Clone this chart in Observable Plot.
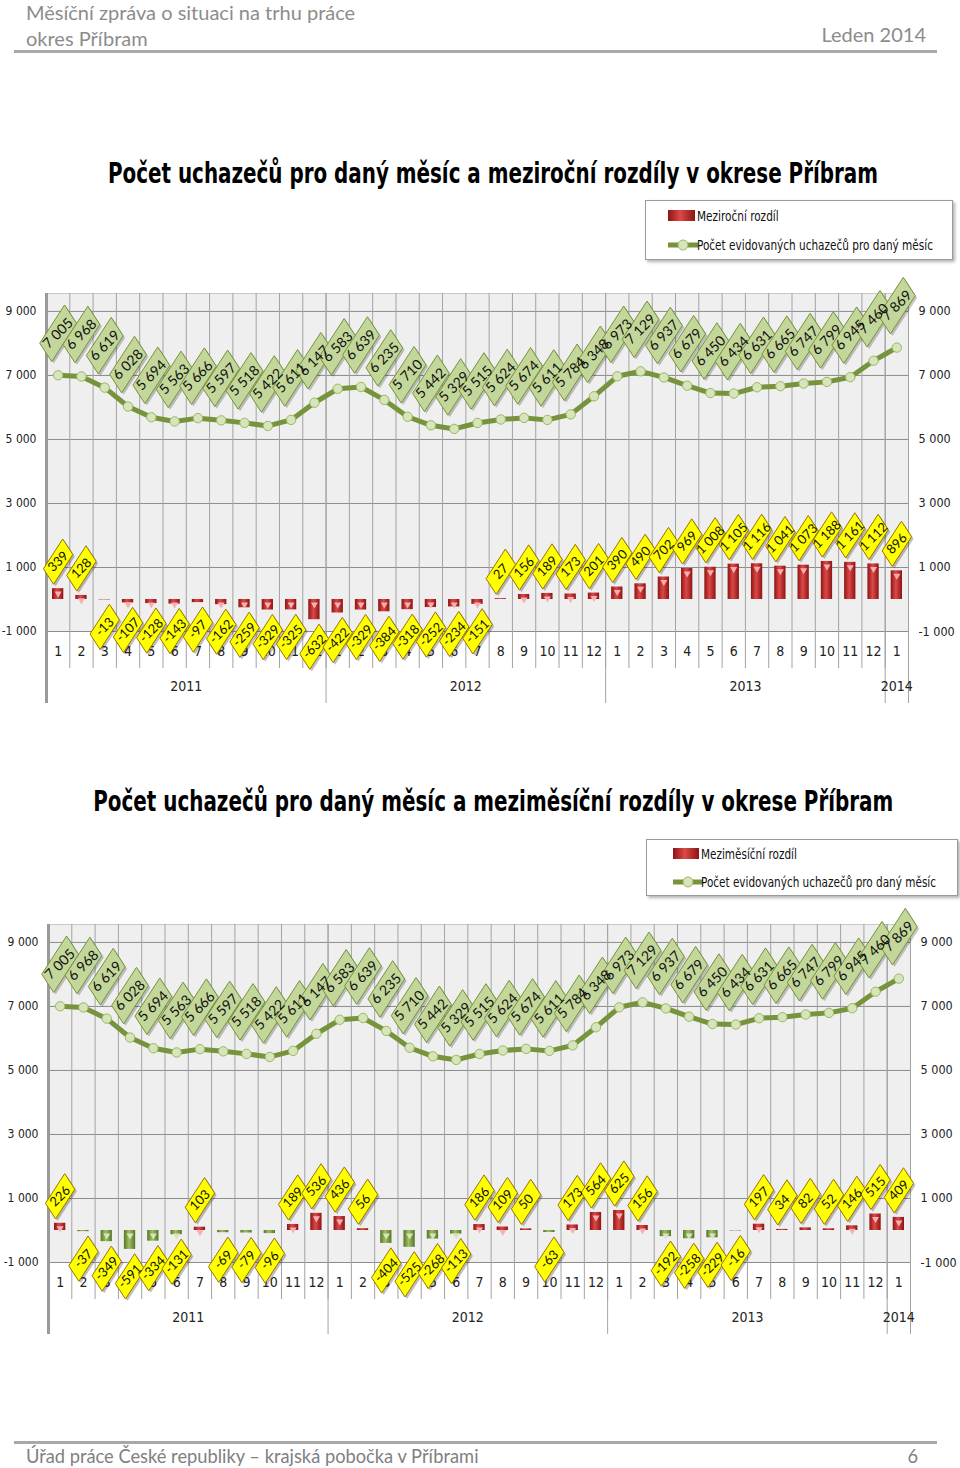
<!DOCTYPE html>
<html><head><meta charset="utf-8">
<script src="https://cdn.jsdelivr.net/npm/d3@7"></script>
<script src="https://cdn.jsdelivr.net/npm/@observablehq/plot@0.6"></script>
<style>
body{margin:0;background:#fff;}
#page{position:relative;width:960px;height:1468px;overflow:hidden;font-family:Lato,"Open Sans",sans-serif;}
.hdr{position:absolute;color:#8c8c8c;font-size:20px;line-height:24px;white-space:nowrap;}
.rule{position:absolute;left:14px;width:923px;height:3px;background:#a8a8a8;}
.title{position:absolute;left:-507px;width:2000px;text-align:center;white-space:nowrap;}
.title span{display:inline-block;font-family:"Liberation Sans Narrow","Arial Narrow","DejaVu Sans Condensed",sans-serif;font-stretch:condensed;font-weight:bold;font-size:29px;line-height:32px;color:#000;transform-origin:center;}
.legend{position:absolute;border:1px solid #9a9a9a;background:#fff;box-shadow:2px 2px 3px rgba(0,0,0,.3);font-family:"Liberation Sans Narrow","Arial Narrow","DejaVu Sans Condensed",sans-serif;font-stretch:condensed;font-size:14px;color:#111;}
.legend .it{position:absolute;white-space:nowrap;line-height:18px;transform-origin:left center;}
.legend svg{position:absolute;}
.chart{position:absolute;left:0;}
.chart svg{overflow:visible;}
</style></head>
<body>
<svg width="0" height="0" style="position:absolute">
<defs>
<linearGradient id="redG" x1="0" x2="1" y1="0" y2="0">
<stop offset="0" stop-color="#8c1414"/><stop offset="0.45" stop-color="#dd4848"/><stop offset="1" stop-color="#8c1414"/>
</linearGradient>
<linearGradient id="greenG" x1="0" x2="1" y1="0" y2="0">
<stop offset="0" stop-color="#55752a"/><stop offset="0.45" stop-color="#9fc05e"/><stop offset="1" stop-color="#55752a"/>
</linearGradient>
</defs></svg>
<div id="page">
  <div class="hdr" style="left:26px;top:0px;">Měsíční zpráva o situaci na trhu práce</div>
  <div class="hdr" style="left:26px;top:26px;">okres Příbram</div>
  <div class="hdr" style="right:34px;top:22px;">Leden 2014</div>
  <div class="rule" style="top:50px;"></div>

  <div class="title" style="top:157px;"><span id="t1">Počet uchazečů pro daný měsíc a meziroční rozdíly v okrese Příbram</span></div>
  <div class="legend" style="left:645px;top:200px;width:306px;height:58px;">
    <svg style="left:22px;top:9px" width="28" height="12"><rect x="0" y="0" width="27" height="11" fill="url(#redG)"/></svg>
    <div class="it" id="l1a" style="left:51px;top:6px;">Meziroční rozdíl</div>
    <svg style="left:22px;top:37px" width="32" height="14"><line x1="0" x2="30" y1="7" y2="7" stroke="#77933c" stroke-width="5"/><circle cx="15" cy="7" r="5" fill="#d7e4bd" stroke="#9bbb59"/></svg>
    <div class="it" id="l1b" style="left:51px;top:35px;">Počet evidovaných uchazečů pro daný měsíc</div>
  </div>
  <div class="chart" id="c1" style="top:265px;"></div>

  <div class="title" style="top:785px;"><span id="t2">Počet uchazečů pro daný měsíc a meziměsíční rozdíly v okrese Příbram</span></div>
  <div class="legend" style="left:646px;top:839px;width:310px;height:55px;">
    <svg style="left:26px;top:8px" width="28" height="12"><rect x="0" y="0" width="26" height="11" fill="url(#redG)"/></svg>
    <div class="it" id="l2a" style="left:54px;top:5px;">Meziměsíční rozdíl</div>
    <svg style="left:26px;top:35px" width="32" height="14"><line x1="0" x2="30" y1="7" y2="7" stroke="#77933c" stroke-width="5"/><circle cx="15" cy="7" r="5" fill="#d7e4bd" stroke="#9bbb59"/></svg>
    <div class="it" id="l2b" style="left:54px;top:33px;">Počet evidovaných uchazečů pro daný měsíc</div>
  </div>
  <div class="chart" id="c2" style="top:896px;"></div>

  <div class="rule" style="top:1441px;"></div>
  <div class="hdr" style="left:26px;top:1444px;font-size:18.3px;color:#7f7f7f;">Úřad práce České republiky – krajská pobočka v Příbrami</div>
  <div class="hdr" style="right:42px;top:1444px;font-size:18.3px;color:#7f7f7f;">6</div>
</div>
<script>
// ---- data ----
const monthNums = [1,2,3,4,5,6,7,8,9,10,11,12, 1,2,3,4,5,6,7,8,9,10,11,12, 1,2,3,4,5,6,7,8,9,10,11,12, 1];
const yearLabels = ["2011", "2012", "2013", "2014"];
const yearStarts = [0, 12, 24, 36];
const yearEnds = [12, 24, 36, 37];
const counts = [7005, 6968, 6619, 6028, 5694, 5563, 5666, 5597, 5518, 5422, 5611, 6147,
                6583, 6639, 6235, 5710, 5442, 5329, 5515, 5624, 5674, 5611, 5784, 6348,
                6973, 7129, 6937, 6679, 6450, 6434, 6631, 6665, 6747, 6799, 6945, 7460,
                7869];
const yearDiffs = [339, 128, -13, -107, -128, -143, -97, -162, -259, -329, -325, -632,
                   -422, -329, -384, -318, -252, -234, -151, 27, 156, 189, 173, 201,
                   390, 490, 702, 969, 1008, 1105, 1116, 1041, 1073, 1188, 1161, 1112,
                   896];
const monthDiffs = [226, -37, -349, -591, -334, -131, 103, -69, -79, -96, 189, 536,
                    436, 56, -404, -525, -268, -113, 186, 109, 50, -63, 173, 564,
                    625, 156, -192, -258, -229, -16, 197, 34, 82, 52, 146, 515,
                    409];
const yTicks = [-1000, 1000, 3000, 5000, 7000, 9000];

const fmt = d3.formatLocale({decimal: ",", thousands: " ", grouping: [3], currency: ["", ""], minus: "-"}).format(",d");
const NARROW = '"Liberation Sans Narrow","Arial Narrow","DejaVu Sans Condensed",sans-serif';
const SQ = 0.65; // horizontal squash of the rotated labels

function boxSymbol(a, b) {
  const c = Math.SQRT1_2;
  const pts = [[a/2, b/2], [a/2, -b/2], [-a/2, -b/2], [-a/2, b/2]]
    .map(([x, y]) => [SQ * (c * x + c * y), -c * x + c * y]);
  return {draw(ctx) {
    ctx.moveTo(pts[0][0], pts[0][1]);
    for (let k = 1; k < pts.length; k++) ctx.lineTo(pts[k][0], pts[k][1]);
    ctx.closePath();
  }};
}
const greenBox = boxSymbol(54, 26);
const yellowBox = boxSymbol(42, 22);

function squash(svg, label) {
  svg.querySelectorAll(`g[aria-label="${label}"] text`).forEach(t => {
    const tr = t.getAttribute("transform") || "";
    t.setAttribute("transform", tr.replace(/rotate\(([^)]*)\)/, `scale(${SQ},1) rotate($1)`));
  });
}

function makeChart(diffs, negFill, negCap, marginLeft, marginRight) {
  const data = counts.map((c, i) => ({i0: i, i1: i + 1, mi: i + 0.5, count: c, diff: diffs[i]}));
  const pos = data.filter(d => d.diff >= 0);
  const neg = data.filter(d => d.diff < 0);
  const years = yearLabels.map((y, k) => ({label: y, mid: (yearStarts[k] + yearEnds[k]) / 2}));
  const edges = [...yearStarts, 37];
  const yOff = 42, dOff = 27;
  const svg = Plot.plot({
    width: 960, height: 450,
    marginTop: 28, marginBottom: 84, marginLeft, marginRight,
    style: {fontFamily: NARROW, fontSize: "14px", color: "#222", background: "transparent", overflow: "visible"},
    x: {type: "linear", domain: [0, 37]},
    y: {domain: [-1000, 9560]},
    marks: [
      Plot.frame({fill: "#efefef", stroke: "#c8c8c8"}),
      Plot.ruleY(yTicks, {stroke: "#8c8c8c", strokeWidth: 1}),
      Plot.ruleX(d3.range(1, 37), {stroke: "#a3a3a3", insetBottom: -37}),
      Plot.ruleX(edges, {stroke: "#a3a3a3", insetBottom: -72}),
      Plot.ruleX([0], {stroke: "#9a9a9a", strokeWidth: 3, insetBottom: -72}),
      Plot.axisY({anchor: "left", ticks: yTicks, tickFormat: fmt, tickSize: 0, tickPadding: 10, label: null, fontSize: 12}),
      Plot.axisY({anchor: "right", ticks: yTicks, tickFormat: fmt, tickSize: 0, tickPadding: 10, label: null, fontSize: 12.5}),
      Plot.axisX({ticks: data.map(d => d.mi), tickFormat: d => monthNums[Math.floor(d)], tickSize: 0, tickPadding: 15, label: null, fontSize: 14}),
      Plot.text(years, {x: "mid", frameAnchor: "bottom", dy: 59, text: "label", fontSize: 14}),
      // bars
      Plot.rectY(pos, {x1: "i0", x2: "i1", y: "diff", insetLeft: 6, insetRight: 6, fill: "url(#redG)"}),
      Plot.rectY(neg, {x1: "i0", x2: "i1", y: "diff", insetLeft: 6, insetRight: 6, fill: negFill}),
      Plot.dot(pos.filter(d => d.diff >= 100), {x: "mi", y: "diff", symbol: "triangle", rotate: 180, r: 2.6, fill: "#f6b0b0", dy: 5}),
      Plot.dot(neg.filter(d => d.diff <= -100), {x: "mi", y: 0, symbol: "triangle", rotate: 180, r: 2.6, fill: negCap, dy: 5}),
      // count line
      Plot.line(data, {x: "mi", y: "count", stroke: "#77933c", strokeWidth: 5}),
      Plot.dot(data, {x: "mi", y: "count", r: 4.7, fill: "#d7e4bd", stroke: "#9bbb59", strokeWidth: 1}),
      // count labels
      Plot.dot(data, {x: "mi", y: "count", dx: 2, dy: -yOff + 2, symbol: greenBox, fill: "#000", fillOpacity: 0.22, stroke: null}),
      Plot.dot(data, {x: "mi", y: "count", dy: -yOff, symbol: greenBox, fill: "#c4d79b", stroke: "#76923c", strokeWidth: 1}),
      Plot.text(data, {x: "mi", y: "count", dy: -yOff, text: d => fmt(d.count), rotate: -45, fontSize: 14, fontFamily: "Lato, sans-serif", fill: "#111", ariaLabel: "count-label"}),
      // difference labels
      Plot.dot(pos, {x: "mi", y: "diff", dx: 2, dy: -dOff + 2, symbol: yellowBox, fill: "#000", fillOpacity: 0.25, stroke: null}),
      Plot.dot(neg, {x: "mi", y: "diff", dx: 2, dy: dOff + 2, symbol: yellowBox, fill: "#000", fillOpacity: 0.25, stroke: null}),
      Plot.dot(pos, {x: "mi", y: "diff", dy: -dOff, symbol: yellowBox, fill: "#ffff00", stroke: "#9a7400", strokeWidth: 1}),
      Plot.dot(neg, {x: "mi", y: "diff", dy: dOff, symbol: yellowBox, fill: "#ffff00", stroke: "#9a7400", strokeWidth: 1}),
      Plot.text(pos, {x: "mi", y: "diff", dy: -dOff, text: d => fmt(d.diff), rotate: -45, fontSize: 13, fontFamily: "Lato, sans-serif", fill: "#111", ariaLabel: "diff-label"}),
      Plot.text(neg, {x: "mi", y: "diff", dy: dOff, text: d => fmt(d.diff), rotate: -45, fontSize: 13, fontFamily: "Lato, sans-serif", fill: "#111", ariaLabel: "diff-label"})
    ]
  });
  squash(svg, "count-label");
  squash(svg, "diff-label");
  return svg;
}

document.getElementById("c1").appendChild(makeChart(yearDiffs, "url(#redG)", "#f6b0b0", 46, 52));
document.getElementById("c2").appendChild(makeChart(monthDiffs, "url(#greenG)", "#d7e4bd", 48, 50));

function fitWidth(id, target) {
  const el = document.getElementById(id);
  const w = el.getBoundingClientRect().width;
  if (w > 0) { const s = target / w; el.style.transform = `scaleX(${s})`; return s; }
  return 1;
}
fitWidth("t1", 770);
fitWidth("t2", 800);
const s1 = fitWidth("l1b", 236);
document.getElementById("l1a").style.transform = `scaleX(${s1})`;
const s2 = fitWidth("l2b", 235);
document.getElementById("l2a").style.transform = `scaleX(${s2})`;
</script>
</body></html>
